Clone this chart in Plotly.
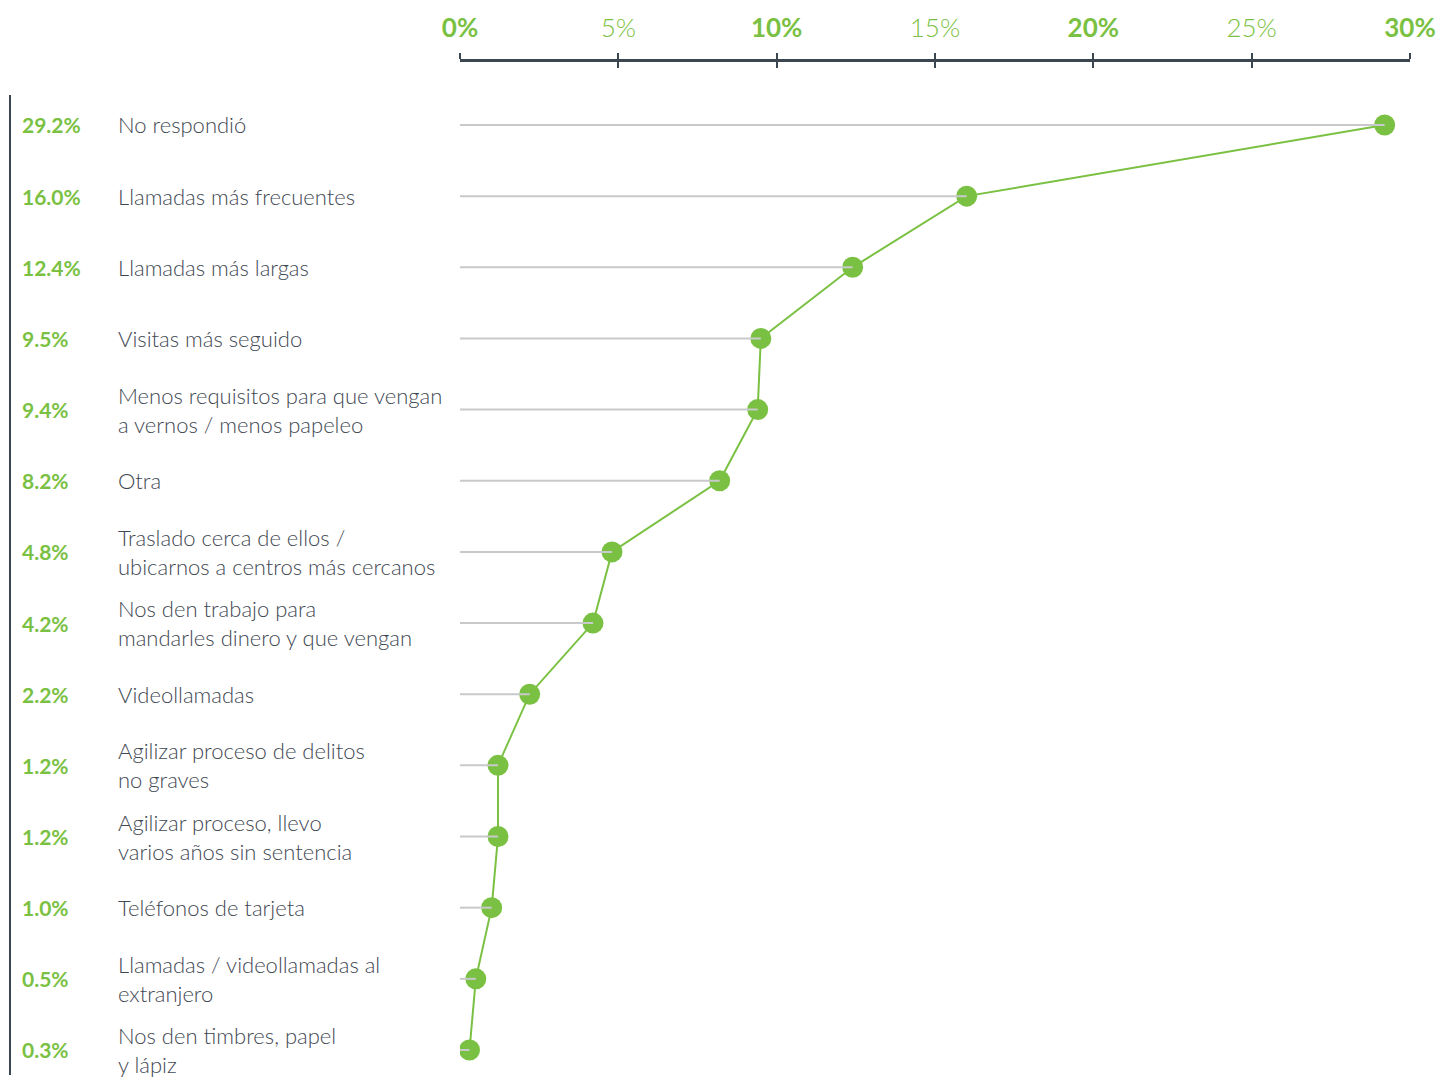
import plotly.graph_objects as go

categories = [
    "No respondió",
    "Llamadas más frecuentes",
    "Llamadas más largas",
    "Visitas más seguido",
    "Menos requisitos para que vengan<br>a vernos / menos papeleo",
    "Otra",
    "Traslado cerca de ellos /<br>ubicarnos a centros más cercanos",
    "Nos den trabajo para<br>mandarles dinero y que vengan",
    "Videollamadas",
    "Agilizar proceso de delitos<br>no graves",
    "Agilizar proceso, llevo<br>varios años sin sentencia",
    "Teléfonos de tarjeta",
    "Llamadas / videollamadas al<br>extranjero",
    "Nos den timbres, papel<br>y lápiz",
]
values = [29.2, 16.0, 12.4, 9.5, 9.4, 8.2, 4.8, 4.2, 2.2, 1.2, 1.2, 1.0, 0.5, 0.3]
tick_vals = [0, 5, 10, 15, 20, 25, 30]
tick_text = ["<b>0%</b>", "5%", "<b>10%</b>", "15%", "<b>20%</b>", "25%", "<b>30%</b>"]

GREEN = "#7ac143"
GRAY = "#c8c9cb"
DARK = "#3b4651"
TEXT = "#3f4953"
FONT = "Lato"

idx = list(range(len(categories)))

# gray guide lines from 0 to each value
gx, gy = [], []
for i, v in zip(idx, values):
    gx += [0, v, None]
    gy += [i, i, None]

fig = go.Figure()
fig.add_trace(go.Scatter(
    x=gx, y=gy, mode="lines", xaxis="x2",
    line=dict(color=GRAY, width=2), hoverinfo="skip", showlegend=False,
))
fig.add_trace(go.Scatter(
    x=values, y=idx, mode="lines+markers",
    line=dict(color=GREEN, width=2),
    marker=dict(color=GREEN, size=21),
    hoverinfo="skip", showlegend=False,
))

annotations = []
for i, (c, v) in enumerate(zip(categories, values)):
    annotations.append(dict(
        x=-0.4632, xref="paper", y=i, yref="y", xanchor="left", yanchor="middle",
        text=f"<b>{v:.1f}%</b>", showarrow=False,
        font=dict(family=FONT, size=21, color=GREEN, weight=900),
    ))
    annotations.append(dict(
        x=-0.3621, xref="paper", y=i, yref="y", xanchor="left", yanchor="middle",
        text=c, showarrow=False, align="left",
        font=dict(family=FONT, size=22, color=TEXT, weight=300),
    ))

fig.update_layout(
    width=1437, height=1074,
    margin=dict(l=452, r=35, t=54, b=0),
    paper_bgcolor="white", plot_bgcolor="white",
    font=dict(family=FONT),
    xaxis=dict(
        range=[0, 30], side="top", showgrid=False, zeroline=False,
        tickvals=tick_vals, ticktext=tick_text,
        tickfont=dict(family=FONT, size=26, color=GREEN, weight=300),
        ticks="outside", ticklen=6, tickwidth=2, tickcolor=DARK,
        showline=True, linewidth=3, linecolor=DARK,
        ticklabelstandoff=6,
    ),
    xaxis2=dict(
        overlaying="x", matches="x", side="top", showgrid=False, zeroline=False,
        tickvals=tick_vals, showticklabels=False,
        ticks="inside", ticklen=6, tickwidth=2, tickcolor=DARK,
        showline=False,
    ),
    yaxis=dict(
        range=[13.45, -0.885], showgrid=False, zeroline=False,
        showticklabels=False, showline=False, ticks="",
    ),
    shapes=[dict(
        type="line", xref="paper", yref="paper",
        x0=-0.4737, x1=-0.4737, y0=0.0069, y1=0.9676,
        line=dict(color=DARK, width=2),
    )],
    annotations=annotations,
    hovermode=False,
)

fig.write_html("out.html")
